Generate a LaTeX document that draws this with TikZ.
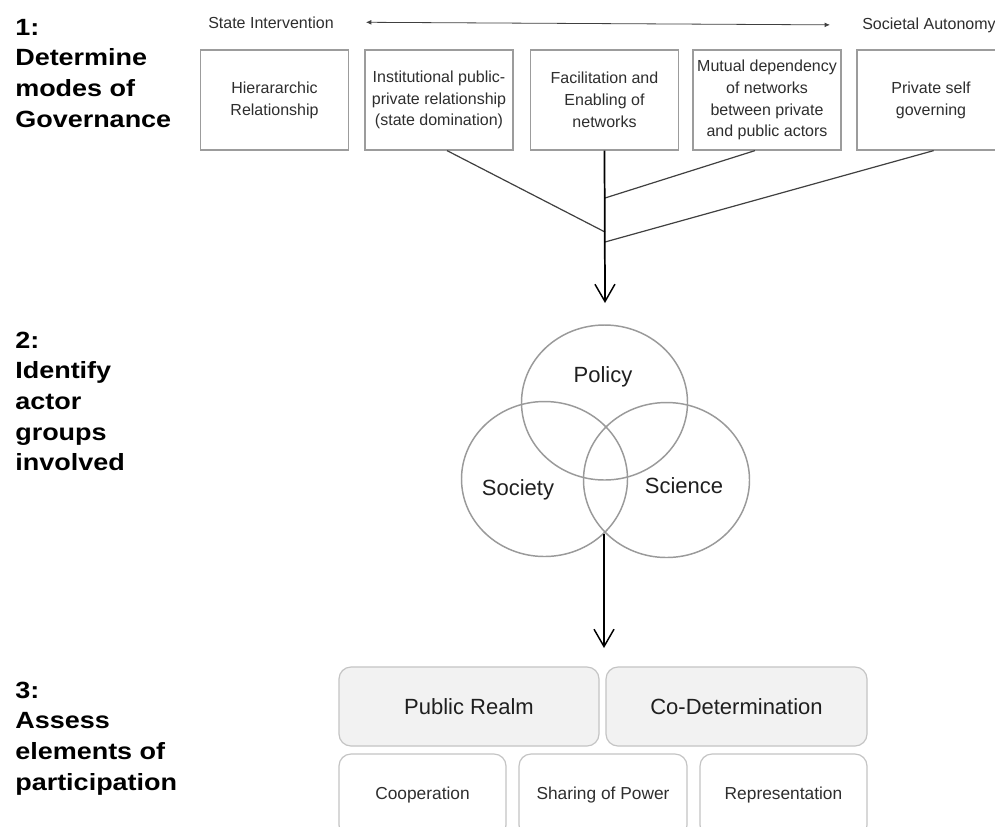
\documentclass[tikz,border=0pt]{standalone}
\usepackage{fontspec}
\setmainfont{Liberation Sans}
\newfontfamily\lblfont[FakeStretch=1.15]{Liberation Sans}
\usetikzlibrary{arrows.meta,shapes.geometric,calc}
\definecolor{boxgray}{HTML}{9C9C9C}
\definecolor{conngray}{HTML}{404040}
\definecolor{txtgray}{HTML}{2E2E2E}
\definecolor{venngray}{HTML}{9A9A9A}
\definecolor{lightborder}{HTML}{C4C4C4}
\definecolor{realmfill}{HTML}{F2F2F2}
\begin{document}
\begin{tikzpicture}[x=0.75pt,y=-0.75pt,
  stepno/.style={anchor=base west, inner sep=0pt, text=black,
    font=\lblfont\bfseries\fontsize{17.6}{23}\selectfont},
  scaletxt/.style={anchor=base west, inner sep=0pt, text=txtgray,
    font=\fontsize{12}{16.3}\selectfont},
  modebox/.style={draw=boxgray, line width=0.9pt, minimum width=111pt,
    minimum height=75pt, align=center, inner sep=2pt, text=txtgray,
    font=\fontsize{12}{16.3}\selectfont},
  conn/.style={draw=conngray, line width=0.9pt},
  mainarrow/.style={draw=black, line width=1.3pt,
    -{Straight Barb[length=13pt,width=15pt,line width=1.1pt]}},
  scalearrow/.style={draw=conngray, line width=0.6pt,
    {Latex[length=4pt,width=3.5pt]}-{Latex[length=4pt,width=3.5pt]}},
  venn/.style={draw=venngray, line width=1.1pt, ellipse, inner sep=0pt,
    minimum width=124.5pt, minimum height=116.25pt},
  venntxt/.style={anchor=base, inner sep=0pt, text=black!88,
    font=\fontsize{16.5}{20}\selectfont},
  realm/.style={draw=lightborder, fill=realmfill, line width=0.9pt,
    rounded corners=9pt, minimum height=59.25pt, text=black!88,
    font=\fontsize{16.5}{20}\selectfont},
  element/.style={draw=lightborder, fill=white, line width=0.9pt,
    rounded corners=9pt, minimum height=62.25pt, text=txtgray,
    font=\fontsize{13}{16}\selectfont}]

\useasboundingbox (0,0) rectangle (995,826);
\fill[white] (0,0) rectangle (995,826);

% step labels
\node[stepno] (l1) at (15,35) {\begin{tabular}[t]{@{}l@{}}1:\\Determine\\modes of\\Governance\end{tabular}};
\node[stepno] (l2) at (15,348) {\begin{tabular}[t]{@{}l@{}}2:\\Identify\\actor\\groups\\involved\end{tabular}};
\node[stepno] (l3) at (15,698) {\begin{tabular}[t]{@{}l@{}}3:\\Assess\\elements of\\participation\end{tabular}};

% scale
\node[scaletxt] (si) at (208,28) {State Intervention};
\node[scaletxt] (sa) at (862,29) {Societal Autonomy};
\draw[scalearrow] ([xshift=24pt]si.east) -- ([xshift=-24pt]sa.west);

% modes of governance
\node[modebox] (b1) at (274.5,100) {Hierararchic\\Relationship};
\node[modebox] (b2) at (439,100) {Institutional public-\\private relationship\\(state domination)};
\node[modebox] (b3) at (604.5,100) {Facilitation and\\Enabling of\\networks};
\node[modebox] (b4) at (767,100) {Mutual dependency\\of networks\\between private\\and public actors};
\node[modebox] (b5) at (931,100) {Private self\\governing};

\coordinate (j1) at (605,198);
\coordinate (j2) at (605,232);
\coordinate (j3) at (605,242);
\coordinate (t1) at (605,303);
\draw[conn] ([xshift=6pt]b2.south) -- (j2);
\draw[conn] ([xshift=-9pt]b4.south) -- (j1);
\draw[conn] ([xshift=2pt]b5.south) -- (j3);
\draw[mainarrow] (b3.south) -- (t1);

% actor groups
\node[venn] (policy) at (604.5,402.5) {};
\node[venn] (society) at (544.5,479) {};
\node[venn] (science) at (666.5,480) {};
\node[venntxt] (tpol) at (603,382) {Policy};
\node[venntxt] (tsoc) at (518,495) {Society};
\node[venntxt] (tsci) at (684,493) {Science};

\coordinate (vb) at (604,534);
\coordinate (t2) at (604,648);
\draw[mainarrow, line width=1.1pt] (vb) -- (t2);

% elements of participation
\node[realm, minimum width=195pt] (pr) at (469,706.5) {Public Realm};
\node[realm, minimum width=195.75pt] (cd) at (736.5,706.5) {Co-Determination};
\node[element, minimum width=125.25pt] (coop) at (422.5,795.5) {Cooperation};
\node[element, minimum width=126pt] (share) at (603,795.5) {Sharing of Power};
\node[element, minimum width=125.25pt] (rep) at (783.5,795.5) {Representation};
\end{tikzpicture}
\end{document}
